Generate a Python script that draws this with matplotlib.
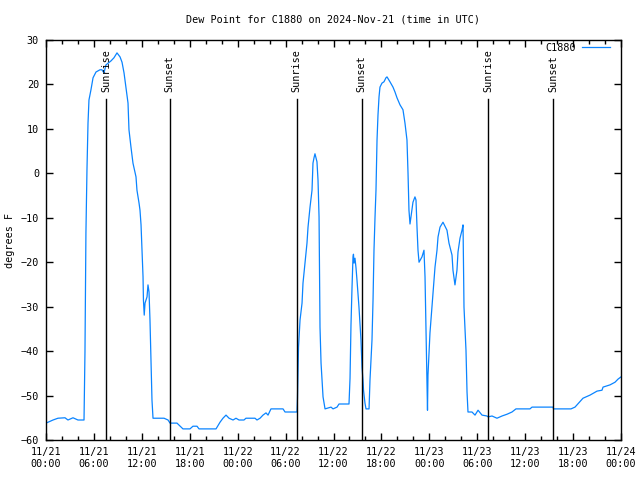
import matplotlib
matplotlib.use("Agg")
import matplotlib.pyplot as plt
from matplotlib.ticker import MultipleLocator

# hours since 2024-11-21 00:00 UTC, dew point in degrees F
hours = [0.0, 0.88, 1.5, 2.38, 2.75, 3.38, 4.0, 4.76, 4.88, 5.0, 5.13, 5.26, 5.38,
         5.63, 5.89, 6.26, 6.76, 7.0, 7.26, 7.51, 8.14, 8.51, 8.89, 9.27, 9.52,
         9.77, 10.0, 10.27, 10.39, 10.64, 10.89, 11.27, 11.39, 11.65, 11.77, 11.9,
         12.02, 12.15, 12.2, 12.3, 12.4, 12.65, 12.77, 12.9, 13.02, 13.15, 13.27,
         13.4, 14.78, 15.28, 15.53, 16.4, 17.15, 18.03, 18.4, 18.91, 19.16, 21.29,
         21.79, 22.16, 22.54, 22.92, 23.42, 23.79, 24.17, 24.79, 25.04, 26.17,
         26.42, 26.8, 27.17, 27.55, 27.8, 28.17, 29.68, 29.93, 31.43, 31.49, 31.56,
         31.62, 31.81, 32.06, 32.18, 32.43, 32.68, 32.81, 33.06, 33.31, 33.43,
         33.56, 33.68, 33.93, 34.06, 34.19, 34.25, 34.31, 34.44, 34.56, 34.69,
         34.94, 35.31, 35.69, 35.94, 36.44, 36.69, 37.94, 38.07, 38.19, 38.32,
         38.44, 38.5, 38.57, 38.69, 38.82, 38.94, 39.19, 39.44, 39.57, 39.69,
         39.76, 39.94, 40.07, 40.45, 40.57, 40.82, 40.95, 41.07, 41.2, 41.32,
         41.45, 41.57, 41.7, 41.82, 42.07, 42.32, 42.57, 42.7, 43.07, 43.45, 43.7,
         43.95, 44.33, 44.7, 44.95, 45.2, 45.33, 45.45, 45.58, 45.83, 45.95, 46.2,
         46.33, 46.46, 46.58, 46.71, 47.08, 47.33, 47.46, 47.58, 47.71, 47.77,
         47.83, 48.08, 48.33, 48.46, 48.71, 48.96, 49.09, 49.34, 49.71, 50.21,
         50.46, 50.84, 50.96, 51.21, 51.46, 51.59, 51.84, 52.09, 52.22, 52.34,
         52.59, 52.72, 52.84, 53.34, 53.72, 54.1, 54.6, 55.22, 55.35, 55.85, 56.47,
         57.1, 57.73, 58.35, 58.85, 60.6, 60.86, 63.49, 63.55, 65.74, 66.24, 67.24,
         68.12, 69.0, 69.62, 69.75, 70.62, 71.25, 71.63, 72.0]
dewpoint = [-56.2, -55.5, -55.1, -55.0, -55.5, -55.0, -55.5, -55.5, -40.2, -13.4, 0.8,
            11.3, 16.5, 18.8, 21.5, 22.8, 23.3, 23.3, 22.6, 24.4, 25.3, 26.0, 27.1,
            26.2, 25.0, 22.6, 19.4, 15.8, 9.8, 5.9, 2.3, -0.8, -3.8, -6.7, -8.3,
            -11.6, -17.3, -23.3, -28.5, -31.9, -29.2, -27.8, -25.1, -26.7, -33.0,
            -42.0, -51.0, -55.1, -55.1, -55.5, -56.2, -56.2, -57.5, -57.5, -56.9,
            -56.9, -57.5, -57.5, -56.0, -55.1, -54.4, -55.1, -55.5, -55.1, -55.5,
            -55.5, -55.1, -55.1, -55.5, -55.1, -54.4, -53.9, -54.4, -53.0, -53.0,
            -53.7, -53.7, -50.5, -44.9, -39.1, -33.0, -29.2, -24.7, -20.2, -15.7,
            -12.1, -7.6, -3.8, 2.3, 3.5, 4.4, 2.6, -1.5, -9.8, -21.8, -34.6, -42.7,
            -46.5, -50.3, -53.0, -52.8, -52.6, -53.0, -52.6, -51.9, -51.9, -46.1,
            -34.1, -25.6, -18.8, -18.2, -20.2, -19.1, -21.3, -24.0, -30.1, -37.5,
            -43.6, -46.5, -48.8, -51.7, -53.0, -53.0, -46.5, -37.5, -28.5, -17.3,
            -9.8, -3.8, 7.5, 13.1, 17.2, 19.4, 20.3, 20.6, 21.5, 21.7, 20.6, 19.4,
            18.3, 17.0, 15.4, 14.3, 11.3, 7.5, 0.1, -8.3, -11.4, -8.0, -6.5, -5.3,
            -6.0, -12.3, -17.3, -20.0, -18.8, -17.3, -23.3, -35.3, -47.2, -53.3,
            -45.4, -35.9, -30.1, -26.9, -21.1, -17.3, -14.3, -12.1, -11.0, -12.8,
            -15.7, -18.4, -21.8, -25.1, -21.8, -17.7, -14.6, -12.8, -11.6, -30.1,
            -39.8, -49.2, -53.7, -53.7, -54.4, -53.3, -54.4, -54.6, -54.8, -54.6,
            -55.1, -54.6, -54.2, -53.7, -53.0, -53.0, -52.6, -52.6, -53.0, -53.0,
            -52.6, -50.6, -49.9, -49.0, -48.8, -48.1, -47.6, -47.0, -46.3, -45.8]

sun_hours = [7.5, 15.5, 31.4, 39.55, 55.35, 63.5]
sun_labels = ["Sunrise", "Sunset", "Sunrise", "Sunset", "Sunrise", "Sunset"]

tick_hours = list(range(0, 73, 6))
tick_labels = ["11/21\n00:00", "11/21\n06:00", "11/21\n12:00", "11/21\n18:00",
               "11/22\n00:00", "11/22\n06:00", "11/22\n12:00", "11/22\n18:00",
               "11/23\n00:00", "11/23\n06:00", "11/23\n12:00", "11/23\n18:00",
               "11/24\n00:00"]
y_ticks = list(range(-60, 31, 10))

plt.rcParams["font.family"] = ["DejaVu Sans Mono"]
plt.rcParams["font.size"] = 7.3

fig = plt.figure(figsize=(6.4, 4.8), dpi=100)
ax = fig.add_axes([46 / 640, 40 / 480, 575 / 640, 400 / 480])

ax.plot(hours, dewpoint, color="#0a84ff", linewidth=0.9, label="C1880")

# sunrise / sunset markers
for h, lab in zip(sun_hours, sun_labels):
    ax.axvline(h, ymin=0, ymax=0.8525, color="black", linewidth=1)
    ax.text(h, 0.87, lab, transform=ax.get_xaxis_transform(), rotation=90,
            ha="center", va="bottom")

ax.set_xlim(0, 72)
ax.set_ylim(-60, 30)
ax.set_xticks(tick_hours)
ax.set_xticklabels(tick_labels)
ax.xaxis.set_minor_locator(MultipleLocator(2))
ax.set_yticks(y_ticks)
ax.tick_params(which="both", direction="in", top=True, right=True, width=1)
ax.tick_params(which="major", length=5, pad=5)
ax.tick_params(which="minor", length=3)
for sp in ax.spines.values():
    sp.set_linewidth(1)

fig.text(333.5 / 640, 1 - 20 / 480, "Dew Point for C1880 on 2024-Nov-21 (time in UTC)",
         ha="center", va="center")
fig.text(10 / 640, 0.5, "degrees F", rotation=90, ha="center", va="center")

ax.legend(loc="center right", bbox_to_anchor=(610 / 640, 1 - 48 / 480),
          bbox_transform=fig.transFigure, frameon=False, markerfirst=False,
          handlelength=2.8, borderpad=0, borderaxespad=0, handletextpad=0.6)

fig.savefig("out.png", dpi=100)
